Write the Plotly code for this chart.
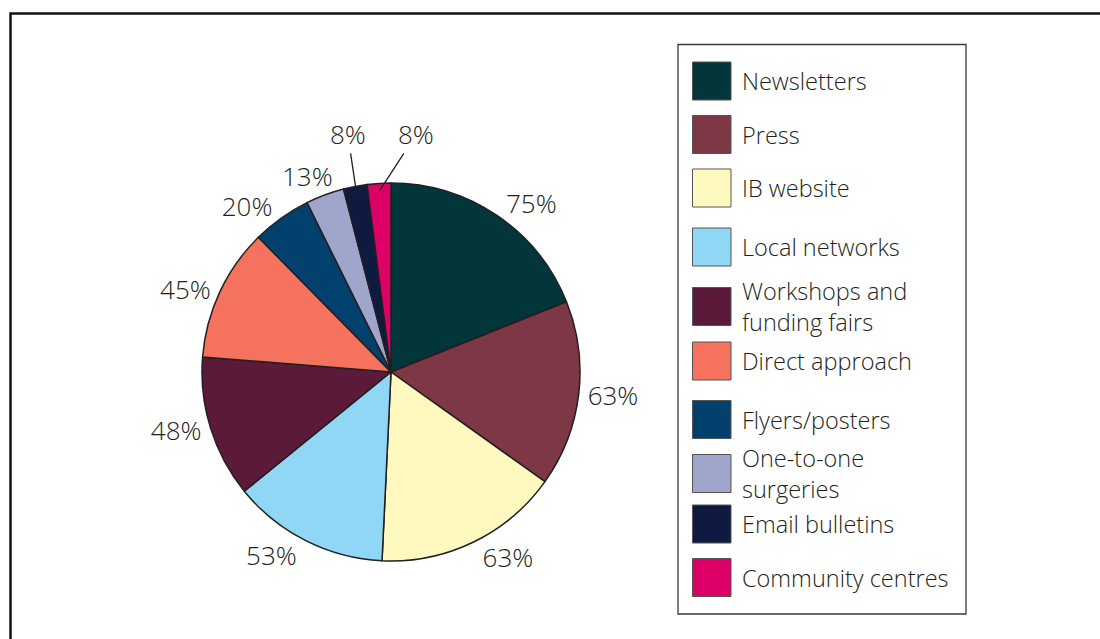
import math
import plotly.graph_objects as go

# Promotion channels and the share of respondents using each (%)
channels = [
    "Newsletters", "Press", "IB website", "Local networks",
    "Workshops and funding fairs", "Direct approach", "Flyers/posters",
    "One-to-one surgeries", "Email bulletins", "Community centres",
]
legend_text = [
    "Newsletters", "Press", "IB website", "Local networks",
    "Workshops and<br>funding fairs", "Direct approach", "Flyers/posters",
    "One-to-one<br>surgeries", "Email bulletins", "Community centres",
]
shares = [75, 63, 63, 53, 48, 45, 20, 13, 8, 8]
colors = [
    "#02363A", "#7E3744", "#FFF9BF", "#8FD7F4", "#5C1A3B",
    "#F5735E", "#02416E", "#A0A5CC", "#0E1A40", "#DC0067",
]

W, H = 1100, 639
TEXT = "#231F20"
FONT = "Open Sans"

# layout constants (pixels)
cx, cy, r = 391, 372, 189
legend_rows = [81, 134.5, 188, 247, 306.5, 361, 419.5, 473.5, 524, 577.5]
# hand-placed labels for the thin top slices: (dx, dy, leader line)
placed = {7: (-17, -19, False), 8: (-9, -60, True), 9: (37, -57, True)}


def px(x):
    return x / W


def py(y):
    return 1 - y / H


slice_text = ["" if i in placed else f"{v}%" for i, v in enumerate(shares)]

fig = go.Figure(
    go.Pie(
        labels=channels,
        values=shares,
        text=slice_text,
        sort=False,
        direction="clockwise",
        rotation=0,
        marker=dict(colors=colors, line=dict(color="#231F20", width=1.5)),
        textposition="outside",
        textinfo="text",
        textfont=dict(size=26, color=TEXT, family=FONT, weight=300),
        showlegend=False,
        hoverinfo="label+value",
        domain=dict(x=[px(cx - r), px(cx + r)], y=[py(cy + r), py(cy - r)]),
    )
)

shapes = [
    # outer frame
    dict(type="rect", xref="paper", yref="paper",
         x0=px(10.5), x1=px(1110), y0=py(650), y1=py(13.5),
         line=dict(color="#111111", width=2.5), fillcolor="rgba(0,0,0,0)"),
    # legend box
    dict(type="rect", xref="paper", yref="paper",
         x0=px(678), x1=px(966), y0=py(614), y1=py(44.5),
         line=dict(color="#3a3a3a", width=1.3), fillcolor="white"),
]
annotations = []

# labels of the thin slices, anchored at each slice's mid-angle
total = sum(shares)
cum = 0
for i, v in enumerate(shares):
    mid = (cum + v / 2) / total * 2 * math.pi
    cum += v
    if i not in placed:
        continue
    dx, dy, leader = placed[i]
    rr = 0.96 * r if leader else r
    tx = cx + rr * math.sin(mid)
    ty = cy - rr * math.cos(mid)
    ann = dict(
        xref="paper", yref="paper", x=px(tx), y=py(ty), text=f"{v}%",
        font=dict(size=26, color=TEXT, family=FONT, weight=300),
    )
    if leader:
        ann.update(showarrow=True, arrowhead=0, arrowwidth=1.3,
                   arrowcolor=TEXT, ax=dx, ay=dy, standoff=0)
    else:
        ann.update(showarrow=False, xshift=dx, yshift=-dy,
                   xanchor="center", yanchor="middle")
    annotations.append(ann)

# legend: swatches and labels
for name, col, yc in zip(legend_text, colors, legend_rows):
    shapes.append(dict(
        type="rect", xref="paper", yref="paper",
        x0=px(692.5), x1=px(731), y0=py(yc + 19), y1=py(yc - 19),
        line=dict(color="#555555", width=1), fillcolor=col,
    ))
    annotations.append(dict(
        xref="paper", yref="paper", x=px(740), y=py(yc),
        xanchor="left", yanchor="middle", showarrow=False, align="left",
        text=name, font=dict(size=23.5, color=TEXT, family=FONT, weight=300),
    ))

fig.update_layout(
    width=W, height=H,
    margin=dict(l=0, r=0, t=0, b=0),
    paper_bgcolor="white",
    plot_bgcolor="white",
    shapes=shapes,
    annotations=annotations,
    font=dict(family=FONT, color=TEXT),
)

fig.write_html("out.html")
